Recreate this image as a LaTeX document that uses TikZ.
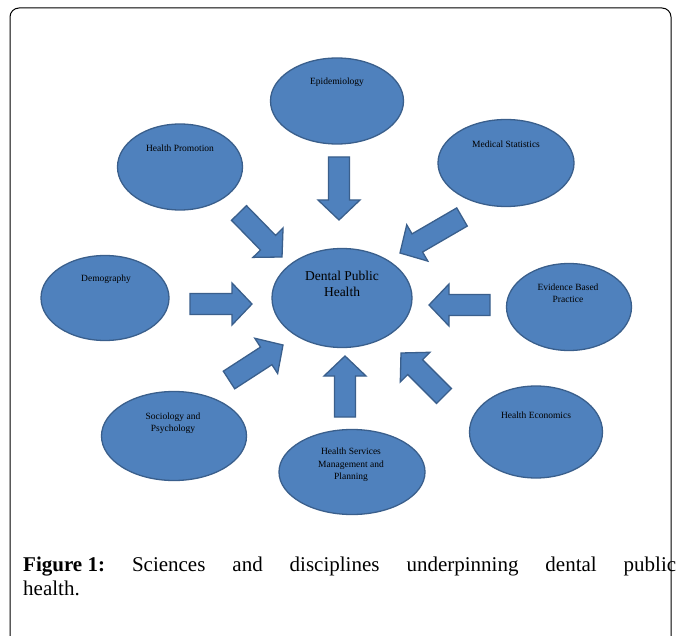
\documentclass[tikz,border=0pt]{standalone}
\usepackage{fontspec}
\setmainfont{Liberation Serif}
\usetikzlibrary{calc,shapes.geometric}
\definecolor{ofill}{HTML}{4F81BD}
\definecolor{oline}{HTML}{3A5F8C}
\tikzset{
  bubble/.style={ellipse, draw=oline, fill=ofill, line width=1.3pt, inner sep=0pt},
  lbl/.style={font=\fontsize{9.5}{12.5}\selectfont, align=center, text=black, inner sep=0pt},
  biglbl/.style={font=\fontsize{13.5}{16}\selectfont, align=center, text=black, inner sep=0pt},
  blockarrow/.style={draw=oline, fill=ofill, line width=1.3pt, line join=miter},
}
% #1 name prefix (tail #1t, tip #1h)
\newcommand{\blkarrow}[1]{%
  \coordinate (#1b) at ($(#1h)!20pt!(#1t)$);
  \draw[blockarrow] ($(#1t)!10.5pt!90:(#1h)$) -- ($(#1b)!10.5pt!-90:(#1t)$)
    -- ($(#1b)!21pt!-90:(#1t)$) -- (#1h) -- ($(#1b)!21pt!90:(#1t)$)
    -- ($(#1b)!10.5pt!90:(#1t)$) -- ($(#1t)!10.5pt!-90:(#1h)$) -- cycle;
}
\begin{document}
\begin{tikzpicture}[x=1pt,y=-1pt]
\useasboundingbox (0,0) rectangle (679,636);
\clip (0,0) rectangle (679,636);
\fill[white] (0,0) rectangle (679,636);
% frame
\draw[line width=1pt, rounded corners=9pt] (10,660) -- (10,8) -- (671,8) -- (671,660);

% ellipses
\node[bubble, minimum width=133pt, minimum height=86pt] (epi) at (337,101) {};
\node[bubble, minimum width=125pt, minimum height=86pt] (hp) at (180,167) {};
\node[bubble, minimum width=136pt, minimum height=87pt] (ms) at (506,163) {};
\node[bubble, minimum width=128pt, minimum height=85pt] (dem) at (105,298) {};
\node[bubble, minimum width=140pt, minimum height=99pt] (dph) at (342,298) {};
\node[bubble, minimum width=125pt, minimum height=87pt] (ebp) at (569,307) {};
\node[bubble, minimum width=145pt, minimum height=89pt] (soc) at (174,436) {};
\node[bubble, minimum width=146pt, minimum height=85pt] (hsm) at (352,472) {};
\node[bubble, minimum width=133pt, minimum height=92pt] (he) at (536,432) {};

% labels
\node[lbl] (epil) at (337,82) {Epidemiology};
\node[lbl] (hpl) at (180,148) {Health Promotion};
\node[lbl] (msl) at (506,144) {Medical Statistics};
\node[lbl] (deml) at (106,279) {Demography};
\node[biglbl] (dphl) at (342,284) {Dental Public\\Health};
\node[lbl] (ebpl) at (568,293) {Evidence Based\\Practice};
\node[lbl] (socl) at (173,423) {Sociology and\\Psychology};
\node[lbl] (hel) at (536,415) {Health Economics};
\node[lbl] (hsml) at (351,465) {Health Services\\Management and\\Planning};

% block arrows
\coordinate (a1t) at (339,157); \coordinate (a1h) at (339,220); \blkarrow{a1}
\coordinate (a2t) at (239,213); \coordinate (a2h) at (282,257); \blkarrow{a2}
\coordinate (a3t) at (462,217); \coordinate (a3h) at (400,253); \blkarrow{a3}
\coordinate (a4t) at (190,304); \coordinate (a4h) at (252,304); \blkarrow{a4}
\coordinate (a5t) at (490,305); \coordinate (a5h) at (429,305); \blkarrow{a5}
\coordinate (a6t) at (229,380); \coordinate (a6h) at (283,345); \blkarrow{a6}
\coordinate (a7t) at (345,417); \coordinate (a7h) at (345,356); \blkarrow{a7}
\coordinate (a8t) at (444,396); \coordinate (a8h) at (401,353); \blkarrow{a8}

% caption
\node[anchor=base west, text width=653pt, align=justify, inner sep=0pt,
      font=\fontsize{21}{24}\selectfont] (cap) at (23,571)
  {\mbox{\textbf{Figure 1:}} Sciences and disciplines underpinning dental public\linebreak health.};
\end{tikzpicture}
\end{document}
